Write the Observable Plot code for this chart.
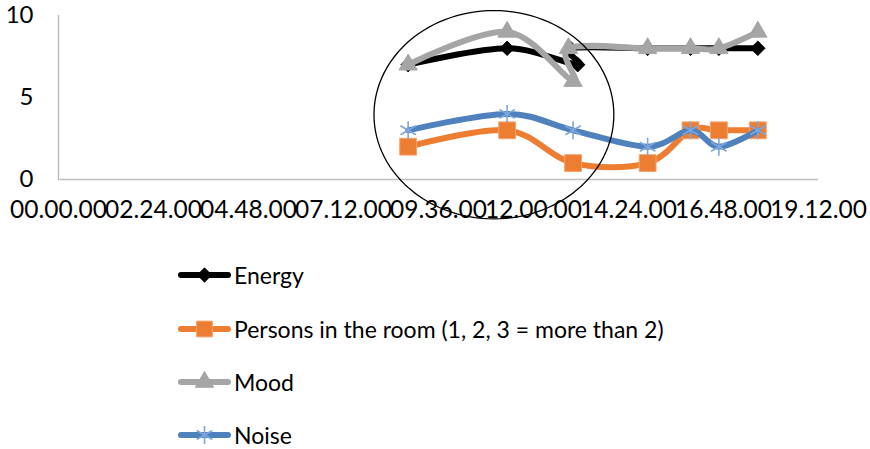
<!DOCTYPE html>
<html>
<head>
<meta charset="utf-8">
<script src="https://cdn.jsdelivr.net/npm/d3@7"></script>
<script src="https://cdn.jsdelivr.net/npm/@observablehq/plot@0.6"></script>
<style>
  html, body { margin: 0; padding: 0; background: #fff; }
  #wrap { position: relative; width: 870px; height: 449px; overflow: hidden; font-family: Lato, "Open Sans", sans-serif; }
  .leg { position: absolute; left: 178px; display: flex; align-items: center; height: 30px; font-size: 23px; color: #000; white-space: nowrap; }
  .leg svg { display: block; margin-right: 3px; }
</style>
</head>
<body>
<div id="wrap"></div>
<script>
// ---- data ----
const seriesNames = ["Energy", "Persons in the room (1, 2, 3 = more than 2)", "Mood", "Noise"];
const energyTimes = ["08:50", "11:20", "13:07", "12:56", "14:53", "15:58", "16:41", "17:40"];
const energyValues = [7, 8, 7, 8, 8, 8, 8, 8];
const moodTimes = ["08:50", "11:20", "13:00", "12:53", "14:53", "15:58", "16:41", "17:40"];
const moodValues = [7, 9, 6, 8, 8, 8, 8, 9];
const personsTimes = ["08:50", "11:20", "13:00", "14:53", "15:58", "16:41", "17:40"];
const personsValues = [2, 3, 1, 1, 3, 3, 3];
const noiseTimes = ["08:50", "11:20", "13:00", "14:53", "15:58", "16:41", "17:40"];
const noiseValues = [3, 4, 3, 2, 3, 2, 3];
const xTickLabels = ["00.00.00", "02.24.00", "04.48.00", "07.12.00", "09.36.00", "12.00.00", "14.24.00", "16.48.00", "19.12.00"];
const yTickLabels = ["0", "5", "10"];
// hand-drawn ellipse annotation (centre time, centre value, half-width in hours, half-height in value units)
const ellipseCenter = ["11:00", 3.95];
const ellipseRadii = [3.03, 6.35];

// ---- helpers ----
const toHours = s => { const p = s.split(/[.:]/).map(Number); return p[0] + p[1] / 60 + (p[2] || 0) / 3600; };
const rows = (times, values) => times.map((t, i) => ({x: toHours(t), y: values[i]}));

const colors = {energy: "#000000", persons: "#ED7D31", mood: "#A5A5A5", noise: "#4F81BD"};
const energy = rows(energyTimes, energyValues);
const mood = rows(moodTimes, moodValues);
const persons = rows(personsTimes, personsValues);
const noise = rows(noiseTimes, noiseValues);

const ec = toHours(ellipseCenter[0]);
const ellipse = d3.range(0, 361, 3).map(a => ({
  x: ec + ellipseRadii[0] * Math.cos(a * Math.PI / 180),
  y: ellipseCenter[1] + ellipseRadii[1] * Math.sin(a * Math.PI / 180)
}));

const xTicks = xTickLabels.map(toHours);
const yTicks = yTickLabels.map(Number);
const lw = 6;

const chart = Plot.plot({
  width: 870,
  height: 240,
  marginTop: 15,
  marginBottom: 61,
  marginLeft: 58,
  marginRight: 52,
  x: {domain: [0, xTicks[xTicks.length - 1]], axis: null},
  y: {domain: [0, 10], axis: null},
  style: {fontFamily: "Lato, 'Open Sans', sans-serif", color: "#000", background: "transparent", overflow: "visible"},
  marks: [
    Plot.ruleX([0], {y1: 0, y2: 10, stroke: "#BFBFBF", strokeWidth: 1.5}),
    Plot.ruleY([0], {stroke: "#BFBFBF", strokeWidth: 1.5}),
    Plot.axisY({ticks: yTicks, tickFormat: (d, i) => yTickLabels[i], tickSize: 0, tickPadding: 25, fontSize: 24, label: null, fill: "#000"}),
    Plot.axisX({ticks: xTicks, tickFormat: (d, i) => xTickLabels[i], tickSize: 0, tickPadding: 21, fontSize: 24.5, label: null, fill: "#000"}),
    // Energy
    Plot.line(energy, {x: "x", y: "y", stroke: colors.energy, strokeWidth: lw, curve: "cardinal"}),
    Plot.dot(energy, {x: "x", y: "y", symbol: "diamond2", r: 6.5, fill: colors.energy, stroke: colors.energy, strokeWidth: 1}),
    // Persons
    Plot.line(persons, {x: "x", y: "y", stroke: colors.persons, strokeWidth: lw, curve: "cardinal"}),
    Plot.dot(persons, {x: "x", y: "y", symbol: "square", r: 9.5, fill: colors.persons, stroke: "#F3A56E", strokeWidth: 1}),
    // Mood
    Plot.line(mood, {x: "x", y: "y", stroke: colors.mood, strokeWidth: lw, curve: "cardinal"}),
    Plot.dot(mood, {x: "x", y: "y", symbol: "triangle", r: 6.8, fill: colors.mood, stroke: colors.mood, strokeWidth: 1}),
    // Noise
    Plot.line(noise, {x: "x", y: "y", stroke: colors.noise, strokeWidth: lw, curve: "cardinal"}),
    Plot.dot(noise, {x: "x", y: "y", symbol: "asterisk", r: 8.5, fill: "none", stroke: "#7EA6DC", strokeWidth: 1.6}),
    // ellipse annotation
    Plot.line(ellipse, {x: "x", y: "y", stroke: "#000", strokeWidth: 1.3, curve: "linear"})
  ]
});
const wrap = document.getElementById("wrap");
wrap.appendChild(chart);

// ---- legend ----
const legendSpec = [
  {name: seriesNames[0], color: colors.energy, sym: d3.symbolDiamond2, size: 130, fill: colors.energy, stroke: colors.energy, sw: 1},
  {name: seriesNames[1], color: colors.persons, sym: d3.symbolSquare, size: 250, fill: colors.persons, stroke: "#F3A56E", sw: 1},
  {name: seriesNames[2], color: colors.mood, sym: d3.symbolTriangle, size: 145, fill: colors.mood, stroke: colors.mood, sw: 1},
  {name: seriesNames[3], color: colors.noise, sym: d3.symbolAsterisk, size: 230, fill: "none", stroke: "#7EA6DC", sw: 1.6}
];
const rowCenters = [275, 329, 382, 435];
legendSpec.forEach((s, i) => {
  const div = document.createElement("div");
  div.className = "leg";
  div.style.top = (rowCenters[i] - 15) + "px";
  const svg = d3.create("svg").attr("width", 53).attr("height", 30);
  svg.append("line").attr("x1", 3).attr("x2", 50).attr("y1", 15).attr("y2", 15)
    .attr("stroke", s.color).attr("stroke-width", lw).attr("stroke-linecap", "round");
  svg.append("path").attr("d", d3.symbol(s.sym, s.size)()).attr("transform", "translate(26.5,15)")
    .attr("fill", s.fill).attr("stroke", s.stroke).attr("stroke-width", s.sw);
  div.appendChild(svg.node());
  const span = document.createElement("span");
  span.textContent = s.name;
  div.appendChild(span);
  wrap.appendChild(div);
});
</script>
</body>
</html>
